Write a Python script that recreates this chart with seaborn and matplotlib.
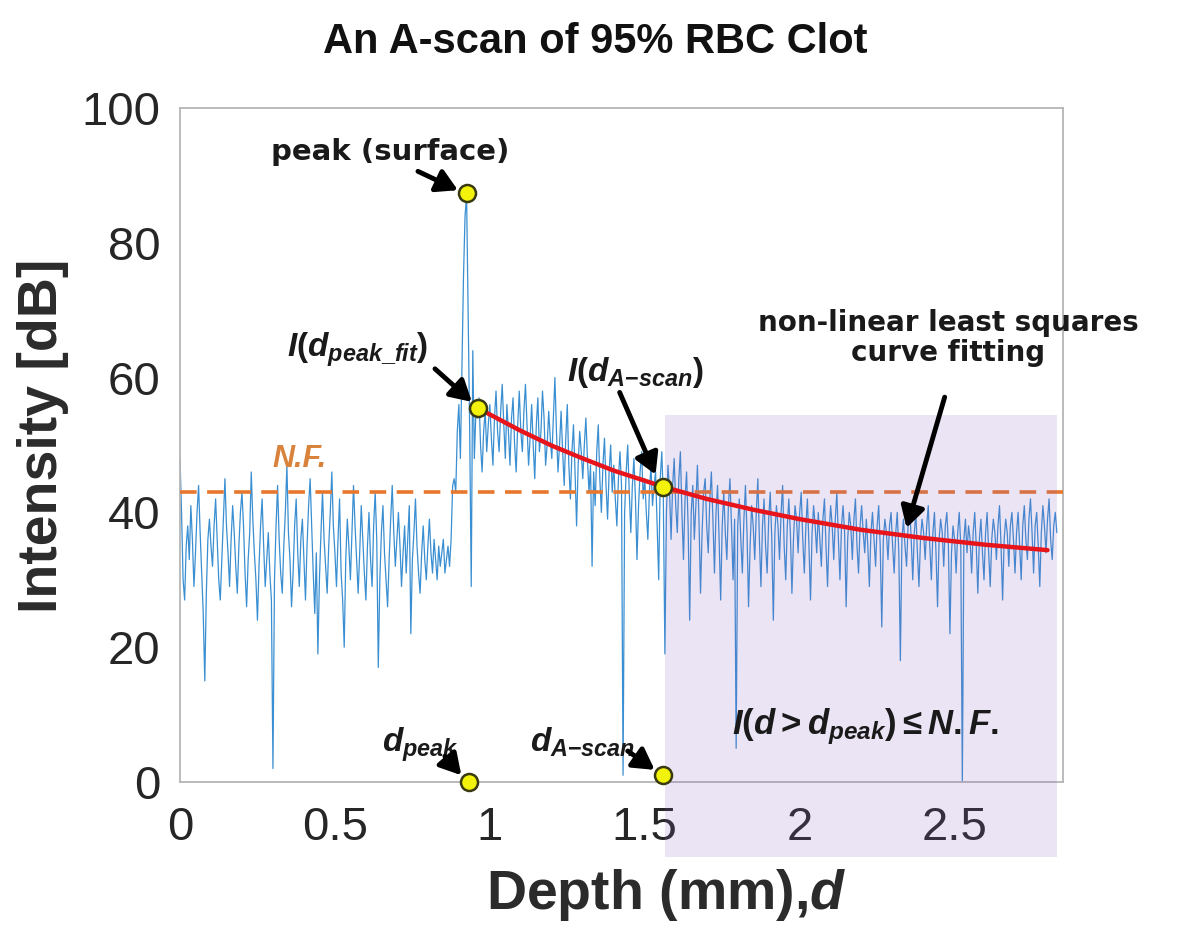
import numpy as np
import pandas as pd
import matplotlib
matplotlib.use("Agg")
import matplotlib.pyplot as plt
from matplotlib.patches import Rectangle
import seaborn as sns

# A-scan intensity in dB, one value every 0.005 mm
intensity = [
    48, 40, 30, 27, 35, 38, 33, 41, 36, 29, 34, 40, 44, 37, 31, 25, 15, 28, 36, 39,
    35, 32, 38, 42, 36, 30, 27, 33, 39, 45, 38, 34, 29, 36, 41, 37, 32, 28, 35, 40,
    43, 38, 31, 26, 33, 37, 46, 39, 34, 30, 24, 32, 38, 42, 35, 29, 33, 37, 31, 27,
    2, 30, 38, 44, 36, 31, 28, 35, 40, 47, 37, 33, 26, 31, 38, 42, 34, 29, 36, 39,
    33, 27, 35, 41, 45, 38, 31, 25, 34, 19, 30, 37, 43, 36, 32, 28, 35, 40, 46, 38,
    34, 29, 36, 42, 31, 27, 20, 33, 39, 35, 30, 37, 44, 38, 33, 28, 34, 41, 36, 31,
    27, 35, 40, 33, 29, 38, 43, 36, 17, 30, 37, 41, 34, 30, 26, 33, 39, 44, 37, 32,
    36, 40, 35, 29, 34, 38, 31, 36, 41, 22, 33, 37, 42, 35, 31, 28, 34, 38, 33, 30,
    35, 39, 34, 31, 36, 33, 30, 35, 32, 34, 36, 31, 33, 35, 32, 36, 44, 45, 43, 52,
    56, 48, 62, 75, 84, 87, 70, 52, 29, 64, 48, 55, 54, 57, 50, 46, 52, 55, 49, 53,
    56, 51, 47, 54, 58, 52, 49, 55, 59, 53, 48, 56, 52, 47, 54, 57, 50, 46, 53, 58,
    52, 49, 55, 59, 53, 47, 51, 56, 50, 45, 53, 57, 49, 52, 58, 54, 47, 50, 55, 51,
    48, 54, 60, 52, 46, 50, 55, 49, 44, 51, 56, 47, 42, 49, 53, 46, 38, 47, 52, 49,
    45, 50, 54, 48, 43, 47, 32, 46, 41, 49, 53, 45, 40, 47, 51, 44, 39, 46, 50, 43,
    47, 42, 38, 45, 49, 44, 1, 40, 46, 50, 43, 37, 44, 48, 42, 33, 41, 46, 49, 42,
    45, 40, 36, 43, 47, 41, 44, 46, 38, 30, 45, 49, 42, 19, 40, 47, 43, 36, 44, 48,
    41, 37, 45, 49, 40, 33, 42, 46, 38, 24, 40, 44, 36, 41, 47, 39, 28, 37, 43, 45,
    38, 34, 42, 46, 39, 31, 40, 44, 36, 27, 38, 43, 37, 33, 41, 45, 38, 30, 39, 5,
    38, 42, 36, 31, 39, 44, 37, 26, 35, 41, 38, 33, 40, 45, 36, 29, 38, 42, 35, 31,
    39, 43, 36, 24, 37, 41, 38, 33, 40, 44, 35, 30, 38, 42, 37, 28, 36, 41, 39, 34,
    40, 43, 36, 31, 38, 42, 35, 27, 37, 41, 38, 34, 40, 36, 32, 39, 42, 35, 29, 37,
    41, 38, 33, 39, 43, 36, 30, 38, 41, 37, 26, 36, 40, 38, 33, 39, 42, 35, 31, 38,
    41, 37, 34, 39, 35, 29, 37, 40, 36, 32, 38, 41, 35, 23, 36, 39, 37, 33, 38, 40,
    35, 31, 37, 40, 34, 18, 36, 39, 35, 32, 38, 41, 36, 30, 37, 40, 34, 29, 36, 39,
    37, 33, 38, 41, 35, 30, 37, 40, 34, 26, 36, 39, 37, 32, 38, 40, 35, 22, 34, 38,
    36, 31, 37, 40, 35, 0, 36, 39, 34, 38, 36, 31, 37, 40, 35, 28, 36, 39, 34, 30,
    37, 40, 34, 29, 36, 39, 37, 33, 38, 41, 35, 27, 36, 39, 37, 32, 38, 40, 36, 31,
    37, 40, 35, 30, 38, 41, 36, 33, 39, 42, 37, 31, 38, 40, 35, 29, 37, 41, 38, 34,
    39, 42, 36, 33, 38, 40, 37,
]
step_mm = 0.005

# red fitted curve, read at a few depths
fit_depth = [0.96, 1.1, 1.2, 1.3, 1.4, 1.56, 1.7, 1.85, 2.0, 2.2, 2.4, 2.6, 2.8]
fit_intensity = [55.5, 52.1, 49.9, 48.0, 46.2, 43.8, 42.0, 40.4, 39.0, 37.4, 36.2, 35.2, 34.4]

noise_floor = 43.0

# yellow markers: peak, I(d_peak_fit), I(d_A-scan), d_peak, d_A-scan
key_depth = [0.926, 0.961, 1.558, 0.932, 1.558]
key_intensity = [87.4, 55.5, 43.8, 0.0, 1.0]

x_ticks = [0, 0.5, 1, 1.5, 2, 2.5]
x_tick_labels = ['0', '0.5', '1', '1.5', '2', '2.5']
y_ticks = [0, 20, 40, 60, 80, 100]

scan = pd.DataFrame({'depth': np.arange(len(intensity)) * step_mm, 'intensity': intensity})
fit = pd.DataFrame({'depth': fit_depth, 'intensity': fit_intensity})
keys = pd.DataFrame({'depth': key_depth, 'intensity': key_intensity})

sns.set_theme(style='white')
plt.rcParams['font.family'] = ['Liberation Sans', 'DejaVu Sans']
plt.rcParams['mathtext.fontset'] = 'custom'
plt.rcParams['mathtext.it'] = 'Liberation Sans:italic:bold'
plt.rcParams['mathtext.rm'] = 'Liberation Sans:bold'
plt.rcParams['mathtext.bf'] = 'Liberation Sans:bold'

fig = plt.figure(figsize=(11.78, 9.39), dpi=100)
ax = fig.add_axes([0.1528, 0.1672, 0.7496, 0.7178])

sns.lineplot(data=scan, x='depth', y='intensity', ax=ax, color='#3A8FD2', lw=0.9,
             sort=False, estimator=None, zorder=2)
ax.axhline(noise_floor, color='#E8772E', lw=2.6, dashes=(4.6, 2.9), zorder=3)
sns.lineplot(data=fit, x='depth', y='intensity', ax=ax, color='#E8141B', lw=3.2,
             sort=False, estimator=None, zorder=5)
sns.scatterplot(data=keys, x='depth', y='intensity', ax=ax, s=150, color='#F2F20A',
                edgecolor='#3A3A10', linewidth=1.8, zorder=6, clip_on=False)

# shaded region below the noise floor (spills over the tick labels)
ax.add_patch(Rectangle((1.565, -11.1), 1.264, 65.6, facecolor='#8A5FC0', alpha=0.17,
                       edgecolor='none', zorder=4, clip_on=False))

ax.set_xlim(0, 2.85)
ax.set_ylim(0, 100)
ax.set_xticks(x_ticks)
ax.set_xticklabels(x_tick_labels)
ax.set_yticks(y_ticks)
ax.tick_params(direction='in', length=6, width=1, color='#999999', labelsize=34,
               labelcolor='#262626')
ax.tick_params(axis='x', pad=17)
ax.tick_params(axis='y', pad=14)
ax.set_xlabel('')
ax.set_ylabel('')
for sp in ax.spines.values():
    sp.set_color('#B5B5B5')
    sp.set_linewidth(1.3)

fig.text(0.505, 0.955, 'An A-scan of 95% RBC Clot', ha='center', va='center',
         fontsize=30, fontweight='bold', color='#111111')
fig.text(0.0365, 0.536, 'Intensity [dB]', rotation=90, ha='center', va='center',
         fontsize=40, fontweight='bold', color='#2B2B2B')
fig.text(0.566, 0.047, 'Depth (mm),$d$', ha='center', va='center',
         fontsize=40, fontweight='bold', color='#2B2B2B')

ann = dict(color='#1A1A1A', zorder=8)
arrow = dict(arrowstyle='-|>,head_length=0.7,head_width=0.4', color='black', lw=3.5,
             shrinkA=0, shrinkB=0, mutation_scale=18)

ax.text(0.677, 93.5, 'peak (surface)', ha='center', va='center', fontsize=21,
        fontweight='bold', family='DejaVu Sans', **ann)
ax.annotate('', xy=(0.897, 87.8), xytext=(0.768, 90.6), arrowprops=arrow, zorder=8)

ax.text(0.574, 64.1, r'$I(d_{peak\_fit})$', ha='center', va='center', fontsize=24, **ann)
ax.annotate('', xy=(0.942, 56.4), xytext=(0.823, 61.3), arrowprops=arrow, zorder=8)

ax.text(0.387, 47.9, 'N.F.', ha='center', va='center', fontsize=22, fontweight='bold',
        style='italic', color='#D9823B', zorder=8)

ax.text(0.774, 5.5, r'$d_{peak}$', ha='center', va='center', fontsize=24, **ann)
ax.annotate('', xy=(0.908, 1.0), xytext=(0.855, 3.8), arrowprops=arrow, zorder=8,
            annotation_clip=False)

ax.text(1.30, 5.9, r'$d_{A{-}scan}$', ha='center', va='center', fontsize=24, **ann)
ax.annotate('', xy=(1.532, 1.8), xytext=(1.445, 4.6), arrowprops=arrow, zorder=8,
            annotation_clip=False)

ax.text(1.471, 60.8, r'$I(d_{A{-}scan})$', ha='center', va='center', fontsize=24, **ann)
ax.annotate('', xy=(1.535, 45.6), xytext=(1.419, 57.8), arrowprops=arrow, zorder=8)

ax.text(2.48, 65.9, 'non-linear least squares\ncurve fitting', ha='center', va='center',
        fontsize=20, fontweight='bold', family='DejaVu Sans', linespacing=1.1, **ann)
ax.annotate('', xy=(2.345, 37.7), xytext=(2.468, 57.1), arrowprops=arrow, zorder=8)

ax.text(2.213, 8.2, r'$I(d > d_{peak}) \leq N.F.$', ha='center', va='center',
        fontsize=25, **ann)

fig.savefig('out.png', dpi=100)
